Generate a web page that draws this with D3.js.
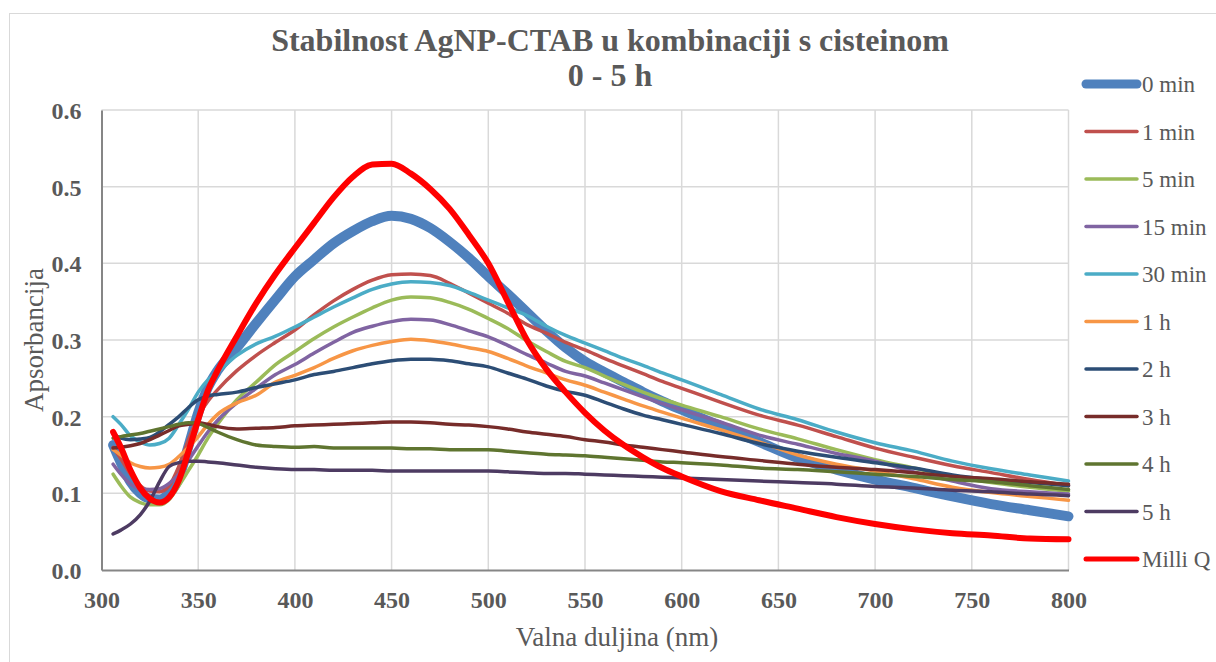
<!doctype html><html><head><meta charset="utf-8">
<style>
  body { margin: 0; background: #fff; }
  text { font-family: "Liberation Serif", "Times New Roman", serif; }
</style>
</head><body><script src='https://d3js.org/d3.v7.min.js'></script>

<script>
  // wavelengths (nm) and absorbance
  const wavelengths = [306, 310, 315, 320, 325, 330, 335, 340, 345, 350, 355, 360, 370, 380, 390, 400, 410, 420, 430, 440, 450, 460, 470, 480, 490, 500, 510, 520, 530, 540, 550, 560, 570, 580, 590, 600, 620, 640, 660, 680, 700, 720, 740, 760, 780, 800];

  const min0  = [.163, .140, .115, .100, .093, .092, .100, .120, .162, .205, .238, .260, .290, .322, .353, .383, .405, .426, .442, .455, .462, .458, .446, .428, .407, .383, .360, .336, .312, .290, .272, .258, .245, .232, .220, .209, .188, .167, .146, .131, .118, .107, .096, .086, .078, .070];
  const min1  = [.160, .145, .125, .110, .103, .102, .110, .135, .170, .200, .220, .235, .260, .280, .297, .313, .333, .351, .366, .378, .385, .386, .384, .374, .361, .348, .335, .320, .309, .297, .287, .276, .266, .256, .246, .237, .219, .202, .189, .174, .159, .147, .136, .127, .118, .110];
  const min5  = [.125, .110, .095, .088, .085, .085, .092, .110, .130, .150, .172, .190, .222, .245, .268, .285, .302, .317, .330, .342, .352, .356, .355, .349, .340, .328, .315, .299, .285, .272, .264, .253, .242, .232, .223, .215, .200, .184, .171, .157, .144, .133, .122, .114, .108, .103];
  const min15 = [.138, .125, .112, .106, .105, .106, .113, .125, .143, .162, .180, .195, .218, .237, .255, .268, .283, .297, .310, .318, .324, .327, .326, .320, .312, .304, .293, .281, .270, .259, .253, .244, .235, .226, .217, .209, .193, .176, .164, .152, .142, .128, .116, .106, .102, .099];
  const min30 = [.200, .190, .175, .167, .163, .165, .172, .190, .210, .232, .248, .258, .280, .295, .305, .317, .330, .343, .355, .366, .373, .376, .375, .371, .362, .352, .342, .332, .318, .306, .296, .286, .276, .267, .257, .248, .229, .210, .196, .180, .166, .155, .142, .132, .124, .116];
  const h1    = [.157, .150, .140, .135, .133, .134, .138, .148, .160, .174, .190, .203, .218, .228, .245, .254, .264, .276, .286, .293, .298, .301, .299, .295, .290, .285, .276, .266, .257, .248, .241, .232, .223, .214, .206, .198, .183, .167, .150, .138, .129, .119, .108, .101, .096, .091];
  const h2    = [.178, .172, .170, .171, .173, .180, .190, .200, .212, .222, .227, .229, .232, .238, .243, .248, .255, .259, .264, .269, .273, .275, .275, .273, .269, .265, .257, .249, .240, .233, .228, .219, .210, .202, .196, .190, .178, .165, .155, .147, .140, .133, .124, .118, .114, .110];
  const h3    = [.159, .160, .162, .165, .170, .176, .182, .188, .190, .192, .190, .187, .184, .185, .186, .188, .189, .190, .191, .192, .193, .193, .192, .190, .189, .187, .184, .180, .177, .174, .170, .167, .163, .160, .157, .154, .148, .143, .138, .134, .131, .127, .122, .119, .115, .112];
  const h4    = [.172, .174, .176, .178, .181, .184, .187, .190, .192, .191, .186, .180, .170, .163, .161, .160, .161, .159, .159, .159, .159, .158, .158, .157, .157, .157, .155, .153, .151, .150, .149, .147, .145, .143, .141, .140, .137, .133, .131, .128, .125, .122, .118, .115, .110, .105];
  const h5    = [.047, .052, .060, .072, .090, .115, .135, .140, .142, .142, .141, .140, .137, .134, .132, .131, .131, .130, .130, .130, .129, .129, .129, .129, .129, .129, .128, .127, .126, .126, .125, .124, .123, .122, .121, .120, .118, .116, .114, .112, .109, .107, .104, .102, .099, .097];
  const milliQ = [.180, .160, .130, .107, .093, .088, .095, .117, .155, .196, .234, .260, .305, .348, .386, .420, .453, .486, .513, .529, .530, .517, .497, .471, .437, .400, .350, .300, .262, .232, .205, .182, .163, .147, .133, .122, .103, .091, .080, .069, .060, .053, .048, .045, .041, .040];

  const seriesNames = ["0 min", "1 min", "5 min", "15 min", "30 min", "1 h", "2 h", "3 h", "4 h", "5 h", "Milli Q"];
  const seriesValues = [min0, min1, min5, min15, min30, h1, h2, h3, h4, h5, milliQ];
  const colors = ["#4F81BD", "#C0504D", "#9BBB59", "#8064A2", "#4BACC6", "#F79646", "#2C4D75", "#772C2A", "#5F7530", "#4D3B62", "#FF0000"];
  const widths = [10, 3.5, 3.5, 3.5, 3.5, 3.5, 3.5, 3.5, 3.5, 3.5, 6];

  const xTicks = [300, 350, 400, 450, 500, 550, 600, 650, 700, 750, 800];
  const yTicks = [0, 0.1, 0.2, 0.3, 0.4, 0.5, 0.6];

  const width = 1216, height = 662;

  var svg = d3.select("body").append("svg")
    .attr("width", width)
    .attr("height", height);

  // chart frame
  svg.append("rect")
    .attr("x", 9.5).attr("y", 13.5)
    .attr("width", 1220).attr("height", 660)
    .attr("fill", "none")
    .attr("stroke", "#d9d9d9")
    .attr("stroke-width", 1);

  var x = d3.scaleLinear().domain([300, 800]).range([101.5, 1068.5]);
  var y = d3.scaleLinear().domain([0, 0.6]).range([570, 110]);

  // gridlines
  svg.append("g").selectAll("line").data(xTicks.slice(1)).enter().append("line")
    .attr("x1", d => x(d)).attr("x2", d => x(d))
    .attr("y1", y(0)).attr("y2", y(0.6))
    .attr("stroke", "#d9d9d9").attr("stroke-width", 1.5);
  svg.append("g").selectAll("line").data(yTicks.slice(1)).enter().append("line")
    .attr("x1", x(300)).attr("x2", x(800))
    .attr("y1", d => y(d)).attr("y2", d => y(d))
    .attr("stroke", "#d9d9d9").attr("stroke-width", 1.5);

  // axes
  var xAxis = svg.append("g")
    .attr("transform", "translate(0," + y(0) + ")")
    .call(d3.axisBottom(x).tickValues(xTicks).tickSize(0).tickPadding(0).tickFormat(d3.format("d")));
  var yAxis = svg.append("g")
    .attr("transform", "translate(" + x(300) + ",0)")
    .call(d3.axisLeft(y).tickValues(yTicks).tickSize(0).tickPadding(20).tickFormat(d3.format(".1f")));

  [xAxis, yAxis].forEach(function(a) {
    a.select(".domain").attr("stroke", "#868686").attr("stroke-width", 2);
    a.selectAll("text")
      .attr("fill", "#595959")
      .style("font-family", "'Liberation Serif', serif")
      .style("font-size", "24px")
      .style("font-weight", "bold");
  });
  xAxis.selectAll("text").attr("y", 38).attr("dy", null);
  yAxis.selectAll("text").attr("dy", "0.35em");

  // lines
  var line = d3.line()
    .x((d, i) => x(wavelengths[i]))
    .y(d => y(d))
    .curve(d3.curveMonotoneX);

  svg.append("g").selectAll("path")
    .data(seriesValues)
    .enter().append("path")
    .attr("d", d => line(d))
    .attr("fill", "none")
    .attr("stroke", (d, i) => colors[i])
    .attr("stroke-width", (d, i) => widths[i])
    .attr("stroke-linejoin", "round")
    .attr("stroke-linecap", "round");

  // title
  svg.append("text")
    .attr("x", 610).attr("y", 51)
    .attr("text-anchor", "middle")
    .attr("fill", "#595959")
    .style("font-size", "32px").style("font-weight", "bold")
    .text("Stabilnost AgNP-CTAB u kombinaciji s cisteinom");
  svg.append("text")
    .attr("x", 610).attr("y", 86)
    .attr("text-anchor", "middle")
    .attr("fill", "#595959")
    .style("font-size", "32px").style("font-weight", "bold")
    .text("0 - 5 h");

  // axis titles
  svg.append("text")
    .attr("x", 617).attr("y", 646)
    .attr("text-anchor", "middle")
    .attr("fill", "#595959")
    .style("font-size", "27px")
    .text("Valna duljina (nm)");
  svg.append("text")
    .attr("transform", "translate(43,340) rotate(-90)")
    .attr("text-anchor", "middle")
    .attr("fill", "#595959")
    .style("font-size", "27px")
    .text("Apsorbancija");

  // legend
  var legend = svg.append("g").selectAll("g")
    .data(seriesNames)
    .enter().append("g")
    .attr("transform", (d, i) => "translate(0," + (84 + i * 47.5) + ")");
  legend.append("line")
    .attr("x1", 1086).attr("x2", 1137)
    .attr("stroke", (d, i) => colors[i])
    .attr("stroke-width", (d, i) => i === 0 ? 9 : (i === 10 ? 5 : 3.5))
    .attr("stroke-linecap", "round");
  legend.append("text")
    .attr("x", 1142).attr("dy", "0.35em")
    .attr("fill", "#595959")
    .style("font-size", "23px")
    .text(d => d);
</script></body></html>
